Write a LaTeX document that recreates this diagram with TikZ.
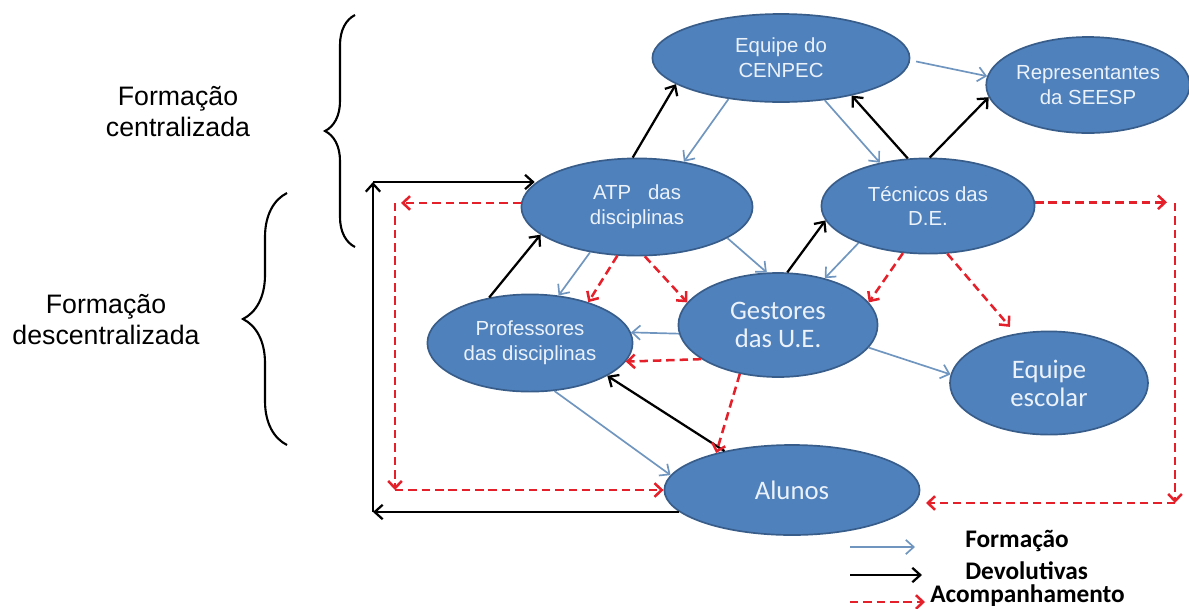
\documentclass[tikz,border=0pt]{standalone}
\usepackage{fontspec}
\setmainfont{Liberation Sans}
\newfontfamily\calibrifont{Carlito}
\usetikzlibrary{shapes.geometric}
\usetikzlibrary{arrows.meta}
\usetikzlibrary{decorations}
\usetikzlibrary{decorations.pathreplacing}

\definecolor{nodeblue}{RGB}{79,129,189}
\definecolor{nodeborder}{RGB}{56,93,138}
\definecolor{nodetext}{RGB}{236,242,250}
\definecolor{formblue}{RGB}{112,150,192}
\definecolor{acompred}{RGB}{228,32,42}

\begin{document}
\begin{tikzpicture}
    \tikzstyle{fedge} = [line width=1.2pt,->,>={Straight Barb[length=2mm,width=3.6mm]},draw=formblue]
    \tikzstyle{dedge} = [line width=1.6pt,->,>={Straight Barb[length=2mm,width=3.6mm]},draw=black]
    \tikzstyle{aedge} = [line width=1.8pt,->,>={Straight Barb[length=1.8mm,width=3.4mm]},draw=acompred,dash pattern=on 6pt off 3.5pt]
    \tikzstyle{actor}=[
      ellipse,
      draw=nodeborder,
      line width=1.2pt,
      fill=nodeblue,
      text=nodetext,
      align=center,
      inner sep=0pt,
      font=\fontsize{14.5}{17.5}\selectfont,
    ]
    \tikzstyle{actorbig}=[
      actor,
      font=\calibrifont\fontsize{19}{20}\selectfont,
    ]
    \tikzstyle{sidelabel}=[
      align=center,
      font=\fontsize{19}{22}\selectfont,
    ]
    \tikzstyle{legendtext}=[
      anchor=west,
      inner sep=0pt,
      font=\calibrifont\bfseries\fontsize{18}{18}\selectfont,
    ]
    \tikzstyle{bracket}=[
      decorate,
      line width=1.5pt,
    ]

    \useasboundingbox (0,0) rectangle (29.725,-15.2);

    \coordinate (canvasAnchor) at (0,0);
    \coordinate (legendAnchor) at ([xshift=21.25cm, yshift=-13.675cm] canvasAnchor);

    % actors
    {
      \node[actor, minimum width=6.43cm, minimum height=2.2cm] (cenpec) at ([xshift=19.525cm, yshift=-1.45cm] canvasAnchor) {Equipe do\\CENPEC};
      \node[actor, minimum width=5.05cm, minimum height=2.4cm] (seesp) at ([xshift=27.2cm, yshift=-2.125cm] canvasAnchor) {Representantes\\da SEESP};
      \node[actor, minimum width=5.78cm, minimum height=2.43cm] (atp) at ([xshift=15.925cm, yshift=-5.175cm] canvasAnchor) {ATP~~~das\\disciplinas};
      \node[actor, minimum width=5.33cm, minimum height=2.38cm] (tecnicos) at ([xshift=23.2cm, yshift=-5.15cm] canvasAnchor) {Técnicos das\\D.E.};
      \node[actorbig, minimum width=4.98cm, minimum height=2.6cm] (gestores) at ([xshift=19.45cm, yshift=-8.125cm] canvasAnchor) {Gestores\\das U.E.};
      \node[actor, minimum width=5.13cm, minimum height=2.43cm] (professores) at ([xshift=13.25cm, yshift=-8.575cm] canvasAnchor) {Professores\\das disciplinas};
      \node[actorbig, minimum width=4.95cm, minimum height=2.58cm] (escolar) at ([xshift=26.225cm, yshift=-9.575cm] canvasAnchor) {Equipe\\escolar};
      \node[actorbig, minimum width=6.38cm, minimum height=2.25cm] (alunos) at ([xshift=19.8cm, yshift=-12.25cm] canvasAnchor) {Alunos};
    }

    % side labels and braces
    {
      \node[sidelabel] (centralLabel) at ([xshift=4.45cm, yshift=-2.8cm] canvasAnchor) {Formação\\centralizada};
      \node[sidelabel] (descentralLabel) at ([xshift=2.65cm, yshift=-8.0cm] canvasAnchor) {Formação\\descentralizada};

      \coordinate (braceOneTop) at ([xshift=8.875cm, yshift=-0.375cm] canvasAnchor);
      \coordinate (braceOneBottom) at ([xshift=8.875cm, yshift=-6.175cm] canvasAnchor);
      \coordinate (braceTwoTop) at ([xshift=7.175cm, yshift=-4.825cm] canvasAnchor);
      \coordinate (braceTwoBottom) at ([xshift=7.175cm, yshift=-11.125cm] canvasAnchor);

      \draw[bracket, decoration={brace, amplitude=0.75cm}] (braceOneBottom)--(braceOneTop);
      \draw[bracket, decoration={brace, amplitude=1.1cm}] (braceTwoBottom)--(braceTwoTop);
    }

    % formacao
    {
      \draw[fedge, shorten <=0.15cm] (cenpec.-1)--(seesp.175);
      \draw[fedge] (cenpec.218)--(atp.44);
      \draw[fedge] (cenpec.-44)--(tecnicos.138);
      \draw[fedge] (atp.-19)--(gestores.102);
      \draw[fedge] (atp.-136)--(professores.59);
      \draw[fedge] (tecnicos.208)--(gestores.45);
      \draw[fedge] (gestores.185)--(professores.6);
      \draw[fedge] (gestores.-14)--(escolar.175);
      \draw[fedge] (professores.-63)--(alunos.173);
    }

    % devolutivas
    {
      \coordinate (loopBottom) at ([xshift=9.325cm, yshift=-12.8cm] canvasAnchor);
      \coordinate (loopTop) at ([xshift=9.325cm, yshift=-4.55cm] canvasAnchor);

      \draw[dedge] (tecnicos.113)--(cenpec.-28);
      \draw[dedge] (tecnicos.88)--(seesp.-173);
      \draw[dedge] (atp.95)--(cenpec.194);
      \draw[dedge] (professores.132)--(atp.196);
      \draw[dedge] (gestores.80)--(tecnicos.188);
      \draw[dedge] (alunos.150)--(professores.-23);

      \draw[dedge] (alunos.191 |- loopBottom)--(loopBottom);
      \draw[dedge] (loopBottom)--(loopTop);
      \draw[dedge] (loopTop)--(atp.167 |- loopTop);
    }

    % acompanhamento
    {
      \coordinate (redTopLeft) at ([xshift=9.875cm, yshift=-5.075cm] canvasAnchor);
      \coordinate (redBotLeft) at ([xshift=9.875cm, yshift=-12.25cm] canvasAnchor);
      \coordinate (redTopRight) at ([xshift=29.375cm, yshift=-5.075cm] canvasAnchor);
      \coordinate (redBotRight) at ([xshift=29.375cm, yshift=-12.575cm] canvasAnchor);

      \draw[aedge] (atp.-112)--(professores.35);
      \draw[aedge] (atp.-81)--(gestores.166);
      \draw[aedge] (tecnicos.-118)--(gestores.14);
      \draw[aedge, shorten >=0.22cm] (tecnicos.-68)--(escolar.124);
      \draw[aedge] (gestores.204)--(professores.-11);
      \draw[aedge] (gestores.-128)--(alunos.154);

      \draw[aedge, shorten >=0.15cm] (atp.178)--(atp.178 -| redTopLeft);
      \draw[aedge] (redTopLeft)--(redBotLeft);
      \draw[aedge] (redBotLeft)--(alunos.west);

      \draw[aedge, shorten >=0.2cm] (tecnicos.2)--(tecnicos.2 -| redTopRight);
      \draw[aedge] (redTopRight)--(redBotRight);
      \draw[aedge, shorten >=0.27cm] (redBotRight)--(alunos.-6 |- redBotRight);
    }

    % legend
    {
      \coordinate (legendFormA) at (legendAnchor);
      \coordinate (legendFormB) at ([xshift=1.625cm] legendAnchor);
      \coordinate (legendDevA) at ([yshift=-0.7cm] legendAnchor);
      \coordinate (legendDevB) at ([xshift=1.8cm, yshift=-0.7cm] legendAnchor);
      \coordinate (legendAcA) at ([yshift=-1.375cm] legendAnchor);
      \coordinate (legendAcB) at ([xshift=1.875cm, yshift=-1.375cm] legendAnchor);

      \draw[fedge] (legendFormA)--(legendFormB);
      \draw[dedge] (legendDevA)--(legendDevB);
      \draw[aedge] (legendAcA)--(legendAcB);

      \node[legendtext] (legendForm) at ([xshift=2.875cm, yshift=0.15cm] legendAnchor) {Formação};
      \node[legendtext] (legendDev) at ([xshift=2.875cm, yshift=-0.6cm] legendAnchor) {Devolutivas};
      \node[legendtext] (legendAc) at ([xshift=2.0cm, yshift=-1.22cm] legendAnchor) {Acompanhamento};
    }
\end{tikzpicture}
\end{document}
